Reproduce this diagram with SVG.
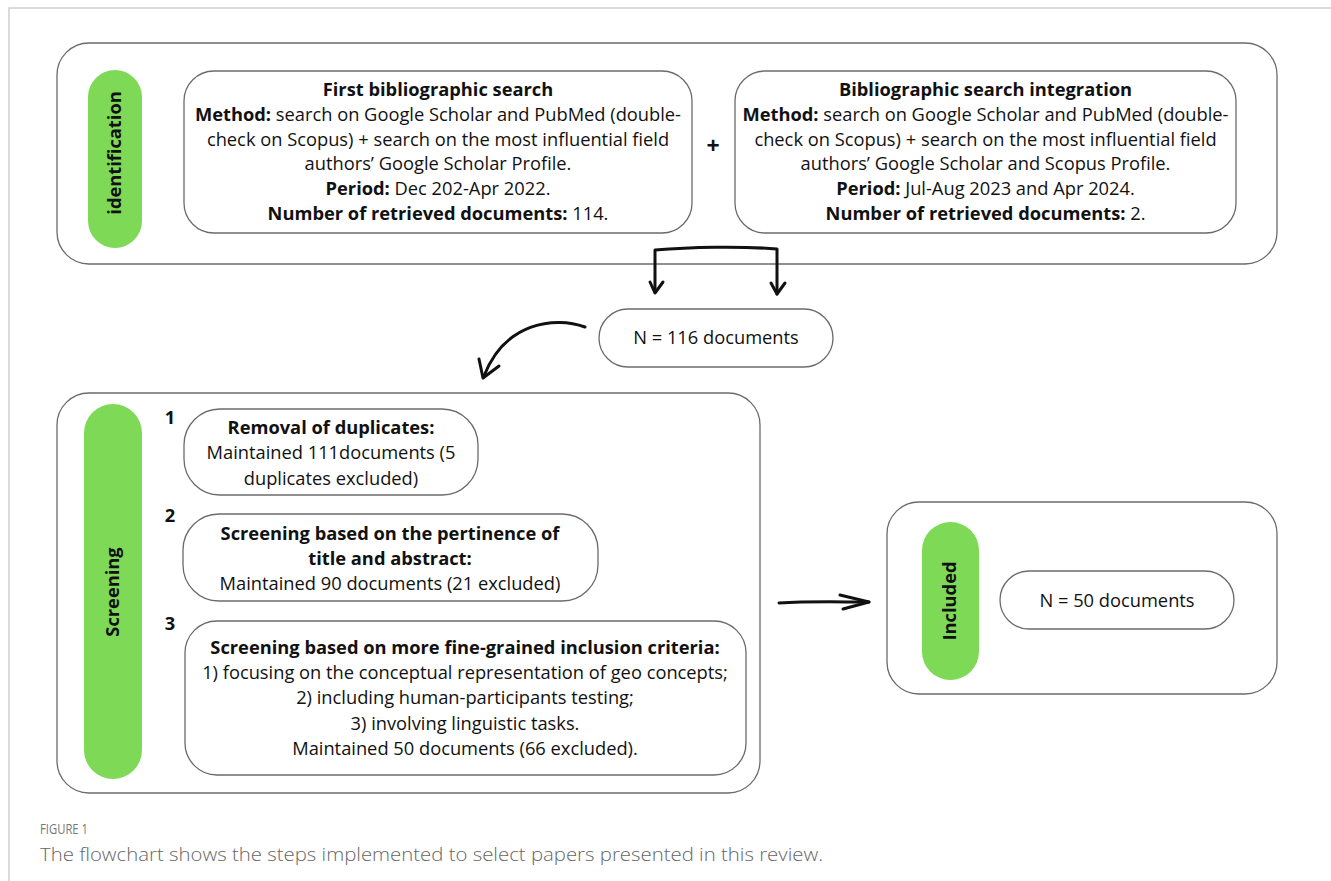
<svg xmlns="http://www.w3.org/2000/svg" width="1331" height="881" viewBox="0 0 1331 881">
<style>
.box{fill:#fff;stroke:#6b6b6b;stroke-width:1.3}
.pill{fill:#7ed957}
.t{font-family:"Open Sans","Noto Sans",sans-serif;font-size:18.3px;fill:#111;text-anchor:middle}
.b{font-weight:bold}
.side{font-family:"Open Sans","Noto Sans",sans-serif;font-size:18.3px;font-weight:bold;fill:#111;text-anchor:middle}
.conn{fill:none;stroke:#111;stroke-width:3;stroke-linecap:round;stroke-linejoin:round}
.cap1{font-family:"Open Sans","Noto Sans",sans-serif;font-size:15px;fill:#777}
.cap2{font-family:"Open Sans","Noto Sans",sans-serif;font-size:18.5px;font-weight:300;fill:#666}
</style>
<rect width="1331" height="881" fill="#fff"/>
<path d="M9,881 V8 H1331" fill="none" stroke="#cfcfcf" stroke-width="1.5"/>

<g id="identification">
<rect class="box" x="57" y="43" width="1220" height="221" rx="32"/>
<rect class="pill" x="88" y="70" width="54" height="178" rx="27"/>
<text class="side" transform="translate(121,153) rotate(-90)">identification</text>
</g>

<g id="first-search">
<rect class="box" x="184" y="71" width="508" height="162" rx="30"/>
<text class="t" y="96"><tspan x="438" class="b">First bibliographic search</tspan><tspan x="438" dy="24.8"><tspan class="b">Method:</tspan> search on Google Scholar and PubMed (double-</tspan><tspan x="438" dy="24.8">check on Scopus) + search on the most influential field</tspan><tspan x="438" dy="24.8">authors’ Google Scholar Profile.</tspan><tspan x="438" dy="24.8"><tspan class="b">Period:</tspan> Dec 202-Apr 2022.</tspan><tspan x="438" dy="24.8"><tspan class="b">Number of retrieved documents:</tspan> 114.</tspan></text>
</g>

<g id="plus">
<text class="t b" x="713" y="154" style="font-size:23px">+</text>
</g>

<g id="search-integration">
<rect class="box" x="735" y="71" width="501" height="162" rx="30"/>
<text class="t" y="96"><tspan x="985.5" class="b">Bibliographic search integration</tspan><tspan x="985.5" dy="24.8"><tspan class="b">Method:</tspan> search on Google Scholar and PubMed (double-</tspan><tspan x="985.5" dy="24.8">check on Scopus) + search on the most influential field</tspan><tspan x="985.5" dy="24.8">authors’ Google Scholar and Scopus Profile.</tspan><tspan x="985.5" dy="24.8"><tspan class="b">Period:</tspan> Jul-Aug 2023 and Apr 2024.</tspan><tspan x="985.5" dy="24.8"><tspan class="b">Number of retrieved documents:</tspan> 2.</tspan></text>
</g>

<g id="n116">
<rect class="box" x="599" y="309" width="234" height="58" rx="29"/>
<text class="t" x="716" y="344">N = 116 documents</text>
</g>

<g id="screening">
<rect class="box" x="57" y="393" width="703" height="400" rx="32"/>
<rect class="pill" x="84" y="404" width="58" height="375" rx="29"/>
<text class="side" transform="translate(119,592) rotate(-90)">Screening</text>
<text class="t b" x="170" y="424">1</text>
<text class="t b" x="170" y="522">2</text>
<text class="t b" x="170" y="630">3</text>
</g>

<g id="step1">
<rect class="box" x="184" y="409" width="294" height="86" rx="36"/>
<text class="t" y="434"><tspan x="331" class="b">Removal of duplicates:</tspan><tspan x="331" dy="25.3">Maintained 111documents (5</tspan><tspan x="331" dy="25.3">duplicates excluded)</tspan></text>
</g>

<g id="step2">
<rect class="box" x="183" y="514" width="415" height="87" rx="36"/>
<text class="t" y="540"><tspan x="390" class="b">Screening based on the pertinence of</tspan><tspan x="390" dy="25" class="b">title and abstract:</tspan><tspan x="390" dy="25">Maintained 90 documents (21 excluded)</tspan></text>
</g>

<g id="step3">
<rect class="box" x="185" y="621" width="561" height="154" rx="32"/>
<text class="t" y="654"><tspan x="465" class="b">Screening based on more fine-grained inclusion criteria:</tspan><tspan x="465" dy="25.2">1) focusing on the conceptual representation of geo concepts;</tspan><tspan x="465" dy="25.2">2) including human-participants testing;</tspan><tspan x="465" dy="25.2">3) involving linguistic tasks.</tspan><tspan x="465" dy="25.2">Maintained 50 documents (66 excluded).</tspan></text>
</g>

<g id="included">
<rect class="box" x="887" y="502" width="390" height="192" rx="32"/>
<rect class="pill" x="922" y="522" width="57" height="158" rx="28.5"/>
<text class="side" transform="translate(956,601) rotate(-90)">Included</text>
</g>

<g id="n50">
<rect class="box" x="1000" y="571" width="234" height="58" rx="29"/>
<text class="t" x="1117" y="607">N = 50 documents</text>
</g>

<g id="connectors">
<path class="conn" d="M655,292 V250 C690,247 740,246 777,249 V294"/>
<path class="conn" d="M650,282 L655,293 L663,282"/>
<path class="conn" d="M771,283 L777,294 L785,283"/>
<path class="conn" d="M585,327 C555,316 505,322 484,376"/>
<path class="conn" d="M479,359 L483,378 L499,366"/>
<path class="conn" d="M779,603 C810,601 840,602 869,602"/>
<path class="conn" d="M840,595 L869,602 L843,609"/>
</g>

<g id="caption">
<text class="cap1" x="40" y="834" textLength="48" lengthAdjust="spacingAndGlyphs">FIGURE 1</text>
<text class="cap2" x="40" y="861" textLength="783" lengthAdjust="spacingAndGlyphs">The flowchart shows the steps implemented to select papers presented in this review.</text>
</g>
</svg>
